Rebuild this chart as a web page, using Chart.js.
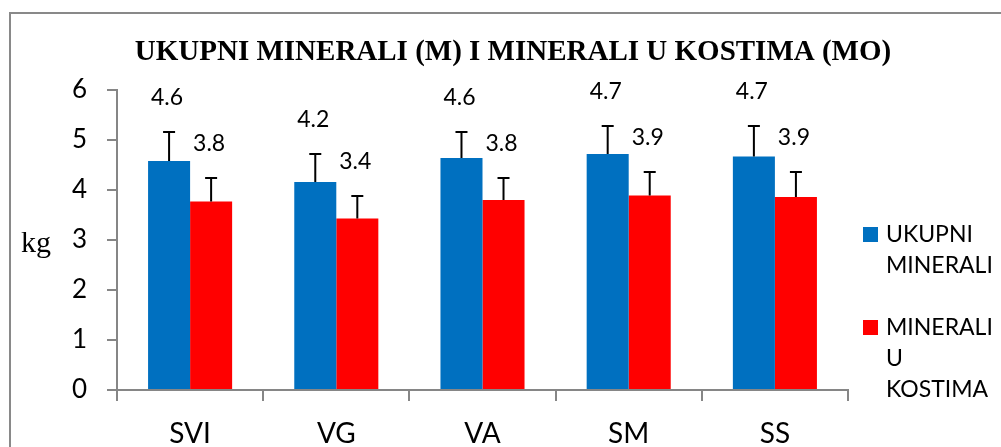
<!DOCTYPE html>
<html lang="hr">
<head>
    <meta charset="UTF-8">
    <title>Ukupni minerali i minerali u kostima</title>
    <script src="https://cdn.jsdelivr.net/npm/chart.js"></script>
    <style>
        body {
            margin: 0;
            padding: 0;
            background-color: #ffffff;
        }
        #wrap {
            position: relative;
            width: 1001px;
            height: 447px;
        }
    </style>
</head>
<body>
    <div id="wrap">
        <canvas id="minerals-chart" width="1001" height="447"></canvas>
    </div>

    <script>
        const categories = ['SVI', 'VG', 'VA', 'SM', 'SS'];
        const seriesNames = ['UKUPNI MINERALI', 'MINERALI U KOSTIMA'];
        const legendLines = [['UKUPNI', 'MINERALI'], ['MINERALI', 'U', 'KOSTIMA']];
        const totalMinerals = [4.58, 4.16, 4.64, 4.72, 4.67];
        const boneMinerals = [3.77, 3.43, 3.80, 3.89, 3.86];
        const totalErrors = [0.58, 0.56, 0.52, 0.56, 0.61];
        const boneErrors = [0.47, 0.45, 0.44, 0.47, 0.50];
        const yTicks = [0, 1, 2, 3, 4, 5, 6];

        const blue = '#0070C0';
        const red = '#FF0000';
        const axisGray = '#868686';
        const sans = 'Lato, "Open Sans", sans-serif';
        const serif = '"Liberation Serif", "DejaVu Serif", serif';

        // error bars (plus only) and value labels above them
        const errorBars = {
            id: 'errorBars',
            afterDatasetsDraw(chart) {
                const ctx = chart.ctx;
                const y = chart.scales.y;
                const errs = [totalErrors, boneErrors];
                ctx.save();
                chart.data.datasets.forEach((ds, i) => {
                    const meta = chart.getDatasetMeta(i);
                    meta.data.forEach((bar, j) => {
                        const top = y.getPixelForValue(ds.data[j] + errs[i][j]);
                        ctx.strokeStyle = '#000000';
                        ctx.lineWidth = 2;
                        ctx.beginPath();
                        ctx.moveTo(bar.x, bar.y);
                        ctx.lineTo(bar.x, top);
                        ctx.moveTo(bar.x - 6, top);
                        ctx.lineTo(bar.x + 6, top);
                        ctx.stroke();

                        ctx.fillStyle = '#000000';
                        ctx.font = '23px ' + sans;
                        ctx.textAlign = 'center';
                        ctx.textBaseline = 'middle';
                        ctx.fillText(ds.data[j].toFixed(1), bar.x - 2, top - 34);
                    });
                });
                ctx.restore();
            }
        };

        // title, axis unit, legend and the outer frame
        const decorations = {
            id: 'decorations',
            afterDraw(chart) {
                const ctx = chart.ctx;
                const area = chart.chartArea;
                ctx.save();

                ctx.strokeStyle = '#898989';
                ctx.lineWidth = 2;
                ctx.strokeRect(10, 13, 1020, 460);

                ctx.fillStyle = '#000000';
                ctx.font = 'bold 29px ' + serif;
                ctx.textAlign = 'center';
                ctx.textBaseline = 'middle';
                ctx.fillText('UKUPNI MINERALI (M) I MINERALI U KOSTIMA (MO)', 513, 53);

                ctx.font = '30px ' + serif;
                ctx.textAlign = 'left';
                ctx.textBaseline = 'alphabetic';
                ctx.fillText('kg', 21, 252);

                ctx.font = '23px ' + sans;
                ctx.textBaseline = 'middle';
                let lineY = area.top + 145;
                chart.data.datasets.forEach((ds, i) => {
                    ctx.fillStyle = ds.backgroundColor;
                    ctx.fillRect(area.right + 15, lineY - 8, 15, 15);
                    ctx.fillStyle = '#000000';
                    legendLines[i].forEach(line => {
                        ctx.fillText(line, area.right + 38, lineY);
                        lineY += 31;
                    });
                    lineY += 31;
                });
                ctx.restore();
            }
        };

        const chart = new Chart(document.getElementById('minerals-chart').getContext('2d'), {
            type: 'bar',
            data: {
                labels: categories,
                datasets: [{
                    label: seriesNames[0],
                    data: totalMinerals,
                    backgroundColor: blue
                }, {
                    label: seriesNames[1],
                    data: boneMinerals,
                    backgroundColor: red
                }]
            },
            options: {
                responsive: false,
                animation: false,
                events: [],
                layout: {
                    padding: { top: 90, right: 153, bottom: 0, left: 0 }
                },
                datasets: {
                    bar: {
                        categoryPercentage: 0.575,
                        barPercentage: 1.0
                    }
                },
                plugins: {
                    legend: { display: false },
                    title: { display: false },
                    tooltip: { enabled: false }
                },
                scales: {
                    x: {
                        grid: {
                            offset: true,
                            drawOnChartArea: false,
                            drawTicks: true,
                            tickLength: 11,
                            color: axisGray,
                            lineWidth: 2
                        },
                        border: { color: axisGray, width: 2 },
                        ticks: {
                            color: '#000000',
                            padding: 16,
                            font: { family: sans, size: 28 }
                        },
                        afterFit(scale) { scale.height = 57; }
                    },
                    y: {
                        min: 0,
                        max: 6,
                        afterBuildTicks(scale) {
                            scale.ticks = yTicks.map(v => ({ value: v }));
                        },
                        grid: {
                            drawOnChartArea: false,
                            drawTicks: true,
                            tickLength: 10,
                            color: axisGray,
                            lineWidth: 2
                        },
                        border: { color: axisGray, width: 2 },
                        ticks: {
                            color: '#000000',
                            padding: 20,
                            font: { family: sans, size: 26 }
                        },
                        afterFit(scale) { scale.width = 117; }
                    }
                }
            },
            plugins: [errorBars, decorations]
        });
    </script>
</body>
</html>
